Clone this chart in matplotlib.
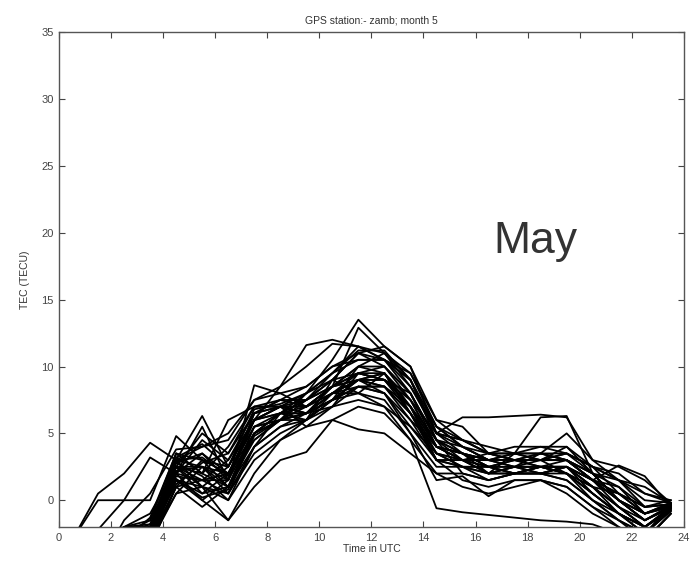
import matplotlib
matplotlib.use("Agg")
import matplotlib.pyplot as plt

# hours (UTC) of each TEC sample
hours = [0.5, 1.5, 2.5, 3.5, 4.5, 5.5, 6.5, 7.5, 8.5, 9.5, 10.5, 11.5,
         12.5, 13.5, 14.5, 15.5, 16.5, 17.5, 18.5, 19.5, 20.5, 21.5, 22.5, 23.5]

# one row per day of the month, values in TECU
tec_days = [
    [-3, 0.5, 2, 4.3, 3, 6.3, 2.5, 6, 8.5, 11.6, 12, 11.5, 10.5, 9, 5, 4.5, 4, 3.5, 3.5, 3, 1.5, 0.5, -0.5, -0.3],
    [-3, 0, 0, 0, 4.8, 3, 1, 4, 6.5, 8, 10.5, 13.5, 11.5, 10, 6, 5.5, 3.5, 3, 3, 4, 2, 1.5, 1, -0.2],
    [-6, -2.2, 0, 3.2, 2, 5.5, 1.5, 8.6, 8, 7, 8.5, 12.9, 11, 9.5, 5.5, 4, 3, 3, 2.5, 3, 2, 0, -1, -0.5],
    [-8, -5, -1.5, 0.5, 3.8, 4, 5, 7.5, 8.5, 10, 11.7, 11.5, 10.5, 9, 4.5, 4, 3, 2.5, 2, 2.5, 1.5, 2.6, 1.8, -0.5],
    [-10, -6, -3, -1.3, 3.5, 2, 6, 7, 7, 5.5, 6, 5.3, 5, 3.5, 2, 1, 0.5, 1, 1.5, 0.5, -1, -2, -3, -1],
    [-7, -4, -2, -2, 3, 1, -1.5, 1, 3, 3.6, 6, 7, 6.5, 4.5, -0.6, -0.9, -1.1, -1.3, -1.5, -1.6, -1.8, -2.5, -3, -1],
    [-9, -6, -3, -2.5, 1.5, 0, -1.5, 2, 4.5, 6, 9, 8, 9.5, 6.5, 3, 2.5, 2, 3.5, 6.2, 6.3, 2, 0, -1.5, -0.5],
    [-5, -3, -2, -1, 2.5, 0.5, 2, 5.5, 6, 8, 9, 11, 11.5, 10, 5, 6.2, 6.2, 6.3, 6.4, 6.2, 3, 1.5, -0.5, 0],
    [-8, -5, -3, -3, 1, -0.5, 1, 5, 6.5, 6.5, 7, 9.5, 9, 8, 4, 3, 2, 2.5, 3.5, 5.0, 3, 2.5, 1.5, -0.2],
    [-6, -3, -2.5, -2, 2, 4.5, 3, 6, 7, 7, 8, 9, 9.5, 6.5, 3.5, 2.5, 2.5, 3, 2.5, 2.5, 0.5, -1, -2, -0.5],
    [-7, -4, -3, -2.5, 3, 2.5, 0.5, 5, 6, 6, 7.5, 8.5, 8, 5, 1.5, 1.8, 0.3, 1.5, 1.5, 1, -0.5, -1.5, -2.5, -0.8],
    [-9, -7, -4, -3, 2, 3.5, 1.5, 6.5, 7, 6.5, 8.5, 10, 10, 8, 4.5, 3, 3, 3.5, 3, 3, 1.5, 1, -1, -0.3],
    [-10, -8, -5, -3.5, 1, 1.5, 2, 4.5, 6, 6.5, 8, 8.5, 8, 6, 3, 3, 2.5, 2, 2, 2.5, 1, -0.5, -1.5, -0.6],
    [-6, -4, -2.5, -1.5, 2.5, 5, 3.5, 7, 7.5, 7.5, 9, 11, 10, 7.5, 5, 4.5, 3.5, 3, 3.5, 3.5, 2.5, 1.5, 0.5, 0],
    [-8, -5, -3.5, -3, 1.5, 1, 0, 3, 4.5, 5.5, 7, 7.5, 7, 5.5, 3, 1.5, 1, 1.5, 1.5, 1, -0.5, -2, -3, -1],
    [-7, -5, -3, -2.2, 3.5, 3, 2.5, 6, 6.5, 7.5, 9.5, 11.5, 11, 8.5, 5.5, 4, 3.5, 4, 4, 4, 2.5, 0.5, -1, -0.2],
    [-9, -6, -4, -3, 2.5, 2, 1, 5.5, 6.5, 6, 7.5, 9, 8.5, 6, 4, 3.5, 2.5, 2.5, 2, 2, 0.5, -1, -2.5, -0.8],
    [-5, -3, -2.5, -2, 2, 0, 1.5, 6.5, 7.5, 7, 8.5, 9.5, 9, 7.5, 4, 3.5, 3, 3, 3, 3.5, 2, 0, -1.5, -0.4],
    [-8, -6, -4, -3, 1, 3, 2, 5, 6.5, 7, 8, 8, 7.5, 5, 2.5, 2.5, 1.5, 2, 2.5, 2, 1, -1, -2, -0.6],
    [-7, -4, -3, -2.5, 3, 4, 4.5, 7.5, 8, 8.5, 10, 10.5, 10.5, 9.5, 6, 4.5, 3.5, 3.5, 4, 3.5, 2.5, 1.5, 0, -0.2],
    [-10, -7, -5, -3, 0.5, 1, 0.5, 4, 5.5, 6, 7, 8.5, 8.5, 7, 4, 3, 2, 2, 2.5, 2.5, 1.5, 0, -1.5, -0.5],
    [-6, -4, -3, -2, 2.5, 2.5, 1.5, 6, 7, 7.5, 8.5, 9, 9, 6.5, 3.5, 2.5, 2.5, 2.5, 3, 3, 1.5, -0.5, -2, -0.7],
    [-8, -5, -3.5, -2.8, 1.8, 1.5, 3, 6.5, 7, 6.5, 7.5, 10, 11, 9, 5, 4, 3, 3, 3, 2, 0, -1.5, -2.5, -0.4],
    [-9, -6, -4, -2.5, 2.8, 3.5, 2, 5.5, 6, 7.5, 9, 9.5, 9, 7, 3.5, 3, 3, 2.5, 2.5, 2.5, 1, 0.5, -0.5, -0.3],
    [-7, -5, -3, -2.5, 1.5, 0.5, 1, 4.5, 6, 6.5, 7.5, 8, 7, 4.5, 2, 2, 1.5, 2, 2, 1.5, 0, -1, -2, -0.8],
    [-6, -3.5, -2, -1.5, 3.5, 2, 4, 7, 7, 8, 9.5, 10.5, 10.5, 8, 4.5, 3.5, 3, 3.5, 3.5, 3, 1.5, 0.5, -1, -0.2],
    [-8, -5, -3, -2.5, 2, 1.5, 0.5, 3.5, 5, 6, 8, 9, 9.5, 7, 4.5, 3.5, 2, 2, 2, 1.5, 0, -1.5, -3, -1],
    [-5, -3, -2, -1.8, 2.2, 2.5, 2, 6, 6.5, 6.5, 8, 9, 9, 7, 4, 3, 2.5, 3, 3, 3, 2, 1, -0.5, -0.3],
    [-9, -7, -4.5, -3.2, 0.5, 2.5, 1, 5, 6, 7, 8.5, 10, 9.5, 7.5, 4, 3.5, 2.5, 2, 2, 2.5, 1.5, 0, -1, -0.5],
    [-7, -5, -3, -2, 2.5, 1, 2.5, 6, 7, 6.5, 7.5, 8.5, 8.5, 6.5, 3, 2.5, 2, 2.5, 2.5, 2.5, 1, -0.5, -2, -0.6],
    [-6, -4, -2.8, -2.2, 3.2, 4.2, 2.5, 6.8, 7.2, 8, 9.5, 11.2, 11.2, 9, 5.5, 4.5, 3.5, 3.5, 3, 3.5, 2.5, 2, 0.5, -0.2],
    [-8, -6, -4, -2.6, 2.5, 1.5, 1.5, 5, 6.5, 7.5, 8.5, 9, 8, 5.5, 3.5, 3, 2, 2.5, 2.5, 2, 0.5, -1, -2, -0.6],
    [-7, -5, -3, -2.4, 1.2, 2.8, 3.5, 6.5, 7.5, 8.5, 10, 11, 10.5, 8.5, 5, 3.5, 3, 3, 3.5, 3, 1.5, 0, -1.5, -0.4],
    [-9, -6, -3.5, -2.7, 2.8, 1.8, 0, 4, 5.5, 6.5, 8, 9.5, 10, 8, 4.5, 2, 1.5, 2, 2.5, 2, 0.5, -1, -2.5, -0.7],
    [-6, -4, -2.5, -1.8, 3, 3.2, 1.8, 6, 7, 7, 8.5, 9.5, 9.5, 7, 3, 3, 3.5, 3, 3, 3, 2, 0, -1, -0.4],
    [-8, -5, -3.5, -2.9, 1.6, 0.2, 0.8, 4.8, 6, 6.5, 7.5, 9, 8.5, 6.5, 4, 3.5, 2.5, 2, 2.5, 2, 1, -0.5, -2, -0.5],
]

x_ticks = list(range(0, 25, 2))
y_ticks = list(range(0, 36, 5))

plt.rcParams["font.family"] = ["Liberation Sans", "DejaVu Sans"]

fig = plt.figure(figsize=(6.9, 5.65), dpi=100)
ax = fig.add_axes([0.0855, 0.0673, 0.9055, 0.8757])

for day in tec_days:
    ax.plot(hours, day, color="black", linewidth=1.3)

ax.set_xlim(0, 24)
ax.set_ylim(-2, 35)
ax.set_xticks(x_ticks)
ax.set_yticks(y_ticks)

grey = "#555555"
ax.tick_params(direction="in", length=4, width=0.8, top=True, right=True,
               labelsize=8, colors="#444444", pad=4)
for sp in ax.spines.values():
    sp.set_color(grey)
    sp.set_linewidth(1.0)

ax.set_title("GPS station:- zamb; month 5", fontsize=7.5, color="#333333", pad=6)
ax.set_xlabel("Time in UTC", fontsize=7.5, color="#333333", labelpad=1)
ax.set_ylabel("TEC (TECU)", fontsize=7.5, color="#333333", labelpad=8)

fig.text(0.7145, 0.552, "May", fontsize=32, color="#333333", va="baseline", ha="left")

fig.savefig("out.png", dpi=100)
